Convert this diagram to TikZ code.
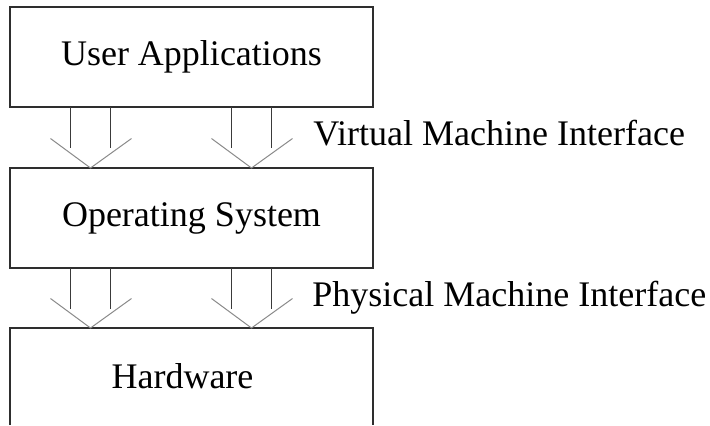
\documentclass[tikz,border=0pt]{standalone}
\usepackage{fontspec}
\setmainfont{Liberation Serif}
\usepackage{tikz}
\usetikzlibrary{positioning,calc}
\definecolor{LayerLine}{HTML}{2E2E2E}
\definecolor{LayerStem}{HTML}{3A3A3A}
\definecolor{LayerArm}{HTML}{8A8A8A}

\tikzset{
  layer/.style={draw=LayerLine,line width=0.75pt,minimum width=181.5pt,
    minimum height=50pt,inner sep=0pt,outer sep=0pt,
    font=\fontsize{18}{22}\selectfont},
  iface/.style={inner sep=0pt,font=\fontsize{18}{22}\selectfont},
  stem/.style={draw=LayerStem,line width=0.5pt},
  arm/.style={draw=LayerArm,line width=0.5pt}
}
% #1 upper layer, #2 lower layer, #3 offset from the centre
\newcommand{\layerarrow}[3]{%
  \draw[stem] ([xshift=#3-10pt]#1.south) -- ++(0,-20.5pt);
  \draw[stem] ([xshift=#3+10pt]#1.south) -- ++(0,-20.5pt);
  \draw[arm] ([xshift=#3-20pt,yshift=14.75pt]#2.north)
    -- ([xshift=#3]#2.north) -- ([xshift=#3+20.5pt,yshift=14.75pt]#2.north);}

\begin{document}
\begin{tikzpicture}
    \useasboundingbox (0,0) rectangle (355pt,-212.5pt);
    \node[layer] (apps) at (95.75pt,-28.5pt) {User Applications};
    \node[layer,below=30.5pt of apps] (os) {Operating System};
    \node[layer,draw=none,minimum height=48.5pt,below=30pt of os] (hw) {\hspace*{-9pt}Hardware};
    \draw[LayerLine,line width=0.75pt] (hw.south west) |- (hw.north east) -- (hw.south east);
    \layerarrow{apps}{os}{-50.5pt}
    \layerarrow{apps}{os}{30pt}
    \layerarrow{os}{hw}{-50.5pt}
    \layerarrow{os}{hw}{30pt}
    \node[iface,anchor=base west] (vmi) at ([shift={(-30pt,-19pt)}]apps.south east)
      {Virtual Machine Interface};
    \node[iface,anchor=base west] (pmi) at ([shift={(-30.5pt,-19pt)}]os.south east)
      {Physical Machine Interface};
  \end{tikzpicture}
\end{document}
